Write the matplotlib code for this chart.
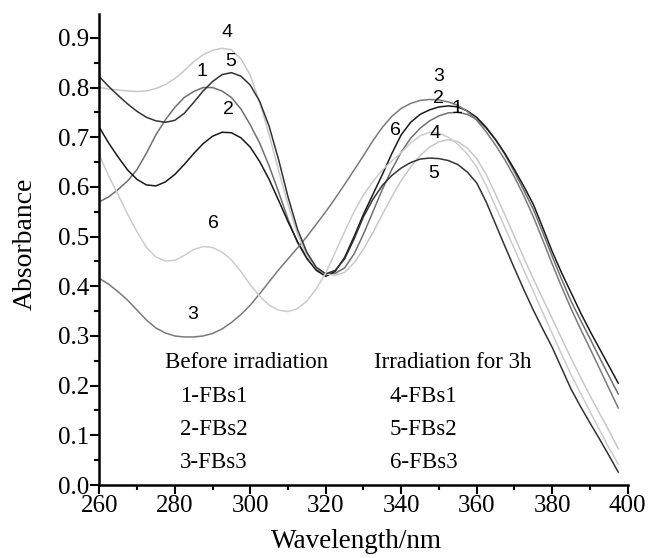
import matplotlib
matplotlib.use("Agg")
import matplotlib.pyplot as plt
from matplotlib.ticker import MultipleLocator, FormatStrFormatter

# wavelength grid (nm), values every 2.5 nm
wavelength = [260, 262.5, 265, 267.5, 270, 272.5, 275, 277.5, 280, 282.5,
              285, 287.5, 290, 292.5, 295, 297.5, 300, 302.5, 305, 307.5,
              310, 312.5, 315, 317.5, 320, 322.5, 325, 327.5, 330, 332.5,
              335, 337.5, 340, 342.5, 345, 347.5, 350, 352.5, 355, 357.5,
              360, 362.5, 365, 367.5, 370, 372.5, 375, 377.5, 380, 382.5,
              385, 387.5, 390, 392.5, 395, 397.5]

# before irradiation
fbs1_before = [0.570, 0.580, 0.595, 0.612, 0.635, 0.668, 0.705, 0.735, 0.760, 0.780,
               0.792, 0.800, 0.800, 0.793, 0.780, 0.757, 0.725, 0.688, 0.642, 0.590,
               0.535, 0.488, 0.455, 0.433, 0.425, 0.426, 0.437, 0.465, 0.505, 0.550,
               0.595, 0.635, 0.670, 0.698, 0.718, 0.733, 0.743, 0.749, 0.750, 0.746,
               0.736, 0.718, 0.695, 0.665, 0.630, 0.593, 0.555, 0.508, 0.460, 0.414,
               0.370, 0.332, 0.295, 0.257, 0.220, 0.183]
fbs2_before = [0.720, 0.688, 0.660, 0.634, 0.615, 0.604, 0.602, 0.610, 0.625, 0.645,
               0.667, 0.687, 0.702, 0.710, 0.709, 0.699, 0.680, 0.651, 0.615, 0.573,
               0.530, 0.490, 0.457, 0.432, 0.420, 0.430, 0.458, 0.500, 0.545, 0.585,
               0.625, 0.667, 0.705, 0.730, 0.746, 0.755, 0.761, 0.763, 0.761, 0.753,
               0.740, 0.720, 0.695, 0.667, 0.635, 0.601, 0.565, 0.518, 0.470, 0.427,
               0.387, 0.347, 0.310, 0.275, 0.240, 0.205]
fbs3_before = [0.416, 0.404, 0.389, 0.372, 0.352, 0.332, 0.316, 0.306, 0.300, 0.298,
               0.298, 0.300, 0.305, 0.314, 0.327, 0.343, 0.362, 0.385, 0.409, 0.433,
               0.455, 0.477, 0.500, 0.525, 0.550, 0.577, 0.605, 0.634, 0.663, 0.693,
               0.720, 0.742, 0.758, 0.768, 0.774, 0.776, 0.775, 0.771, 0.764, 0.752,
               0.734, 0.711, 0.684, 0.654, 0.620, 0.582, 0.540, 0.493, 0.445, 0.399,
               0.355, 0.314, 0.275, 0.235, 0.195, 0.155]
# irradiation for 3h
fbs1_after = [0.800, 0.797, 0.795, 0.793, 0.792, 0.793, 0.798, 0.806, 0.818, 0.834,
              0.852, 0.866, 0.875, 0.879, 0.876, 0.858, 0.825, 0.770, 0.705, 0.633,
              0.565, 0.505, 0.462, 0.437, 0.425, 0.422, 0.428, 0.447, 0.475, 0.508,
              0.545, 0.580, 0.613, 0.640, 0.663, 0.680, 0.691, 0.695, 0.691, 0.678,
              0.657, 0.625, 0.585, 0.543, 0.500, 0.457, 0.415, 0.375, 0.335, 0.295,
              0.255, 0.217, 0.180, 0.145, 0.110, 0.073]
fbs2_after = [0.822, 0.802, 0.784, 0.767, 0.752, 0.740, 0.733, 0.730, 0.734, 0.748,
              0.770, 0.793, 0.812, 0.826, 0.830, 0.823, 0.805, 0.772, 0.722, 0.655,
              0.580, 0.515, 0.468, 0.438, 0.425, 0.432, 0.455, 0.495, 0.540, 0.575,
              0.603, 0.623, 0.638, 0.649, 0.656, 0.658, 0.657, 0.653, 0.645, 0.630,
              0.608, 0.570, 0.525, 0.480, 0.436, 0.393, 0.352, 0.314, 0.277, 0.235,
              0.193, 0.158, 0.125, 0.093, 0.060, 0.026]
fbs3_after = [0.664, 0.622, 0.584, 0.545, 0.510, 0.478, 0.459, 0.451, 0.452, 0.462,
              0.474, 0.480, 0.478, 0.469, 0.453, 0.430, 0.403, 0.380, 0.362, 0.352,
              0.349, 0.355, 0.370, 0.395, 0.427, 0.468, 0.510, 0.550, 0.584, 0.611,
              0.634, 0.652, 0.669, 0.688, 0.703, 0.710, 0.708, 0.700, 0.686, 0.666,
              0.640, 0.603, 0.560, 0.518, 0.475, 0.432, 0.390, 0.347, 0.305, 0.263,
              0.222, 0.185, 0.148, 0.112, 0.075, 0.042]

series = [fbs1_before, fbs2_before, fbs3_before, fbs1_after, fbs2_after, fbs3_after]
colors = ['#707070', '#1a1a1a', '#7a7a7a', '#c8c8c8', '#333333', '#cccccc']

# curve number labels (x, y, text)
curve_labels = [(293.8, 0.911, '4'), (294.9, 0.852, '5'), (287.1, 0.832, '1'),
                (294.2, 0.755, '2'), (290.2, 0.527, '6'), (284.7, 0.344, '3'),
                (349.9, 0.822, '3'), (349.9, 0.778, '2'), (354.7, 0.758, '1'),
                (338.4, 0.714, '6'), (349.0, 0.708, '4'), (348.6, 0.627, '5')]

legend_left = ['Before irradiation', '1-FBs1', '2-FBs2', '3-FBs3']
legend_right = ['Irradiation for 3h', '4-FBs1', '5-FBs2', '6-FBs3']
legend_rows = [0.2354, 0.1676, 0.1006, 0.0336]

serif = 'Liberation Serif'

fig = plt.figure(figsize=(6.52, 5.58), dpi=100)
ax = fig.add_axes([0.1523, 0.1308, 0.8104, 0.8441])

for ys, c in zip(series, colors):
    ax.plot(wavelength, ys, color=c, lw=1.1)

for x, y, t in curve_labels:
    ax.text(x, y, t, ha='center', va='center', fontsize=14, family='Liberation Sans')

for i, (y, t) in enumerate(zip(legend_rows, legend_left)):
    ax.text(277.4 if i == 0 else 281.3, y, t, fontsize=16.5, family=serif, va='baseline')
for i, (y, t) in enumerate(zip(legend_rows, legend_right)):
    ax.text(332.7 if i == 0 else 337.0, y, t, fontsize=16.5, family=serif, va='baseline')

ax.set_xlim(260, 400)
ax.set_ylim(0, 0.948)
ax.spines['top'].set_visible(False)
ax.spines['right'].set_visible(False)
for s in ['left', 'bottom']:
    ax.spines[s].set_linewidth(1.8)

ax.xaxis.set_major_locator(MultipleLocator(20))
ax.xaxis.set_minor_locator(MultipleLocator(10))
ax.yaxis.set_major_locator(MultipleLocator(0.1))
ax.yaxis.set_minor_locator(MultipleLocator(0.05))
ax.yaxis.set_major_formatter(FormatStrFormatter('%.1f'))
ax.tick_params(which='major', direction='out', length=6.5, width=1.5, pad=1)
ax.tick_params(which='minor', direction='out', length=3.6, width=1.5)
for lab in ax.get_xticklabels() + ax.get_yticklabels():
    lab.set_family(serif)
    lab.set_fontsize(18)

ax.set_xlabel('Wavelength/nm', family=serif, fontsize=19.5)
ax.set_ylabel('Absorbance', family=serif, fontsize=20)
ax.xaxis.set_label_coords(0.486, -0.093)
ax.yaxis.set_label_coords(-0.117, 0.512)

fig.savefig('out.png', dpi=100)
